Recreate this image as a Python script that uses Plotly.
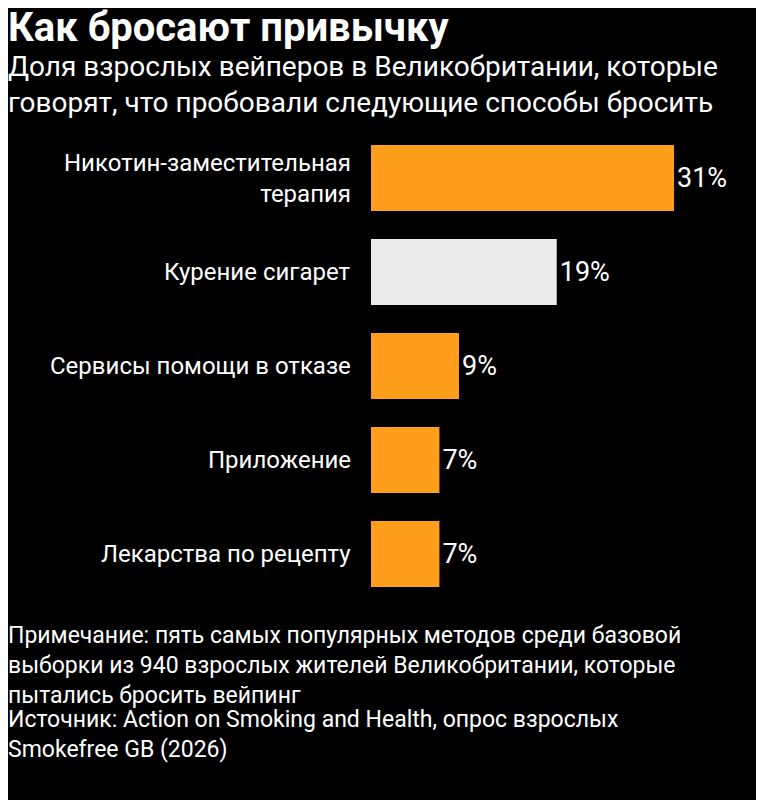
import plotly.graph_objects as go

categories = ["Никотин-заместительная<br>терапия", "Курение сигарет", "Сервисы помощи в отказе", "Приложение", "Лекарства по рецепту"]
values = [31, 19, 9, 7, 7]
labels = ["31%", "19%", "9%", "7%", "7%"]
colors = ["#FF9E1B", "#EBEBEB", "#FF9E1B", "#FF9E1B", "#FF9E1B"]

W, H = 764, 800
O = 8  # page offset compensation
def px(x): return (x - O) / W
def py(y): return 1 - (y - O) / H

fig = go.Figure(go.Bar(
    x=values, y=list(range(len(values))), orientation="h",
    marker=dict(color=colors, line=dict(width=0)), width=0.70,
    text=labels, textposition="outside", cliponaxis=False,
    textfont=dict(color="white", size=27, family="Roboto"),
))
for i, c in enumerate(categories):
    fig.add_annotation(x=px(353), xref="paper", y=i, yref="y", text=c, showarrow=False,
                       xanchor="right", align="right", font=dict(color="white", size=24, family="Roboto"))
fig.add_annotation(x=px(6), y=py(2), xref="paper", yref="paper", xanchor="left", yanchor="top",
                   text="<b>Как бросают привычку</b>", showarrow=False, font=dict(color="white", size=40, family="Roboto"))
fig.add_annotation(x=px(6), y=py(48), xref="paper", yref="paper", xanchor="left", yanchor="top", align="left",
                   text="Доля взрослых вейперов в Великобритании, которые<br>говорят, что пробовали следующие способы бросить",
                   showarrow=False, font=dict(color="white", size=28, family="Roboto"))
fig.add_annotation(x=px(6), y=py(620), xref="paper", yref="paper", xanchor="left", yanchor="top", align="left",
                   text="Примечание: пять самых популярных методов среди базовой<br>выборки из 940 взрослых жителей Великобритании, которые<br>пытались бросить вейпинг",
                   showarrow=False, font=dict(color="white", size=23, family="Roboto"))
fig.add_annotation(x=px(6), y=py(704), xref="paper", yref="paper", xanchor="left", yanchor="top", align="left",
                   text="Источник: Action on Smoking and Health, опрос взрослых<br>Smokefree GB (2026)",
                   showarrow=False, font=dict(color="white", size=23, family="Roboto"))
fig.update_layout(
    width=W, height=H, margin=dict(l=0, r=0, t=0, b=0),
    paper_bgcolor="black", plot_bgcolor="black", showlegend=False,
    xaxis=dict(domain=[px(371), px(762)], range=[0, 40], visible=False),
    yaxis=dict(domain=[py(601), py(131)], range=[4.5, -0.5], visible=False),
)
fig.write_html("out.html")
